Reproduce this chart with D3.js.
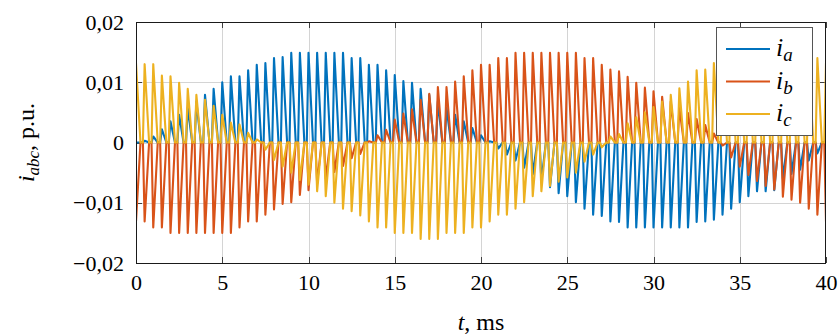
<!DOCTYPE html>
<html lang="en">
<head>
<meta charset="UTF-8">
<title>i_abc</title>
<script src="https://cdn.jsdelivr.net/npm/d3@7/dist/d3.min.js"></script>
<style>
  body { margin: 0; background: #fff; }
  svg text { font-family: "Times New Roman", "Liberation Serif", Times, "Nimbus Roman", serif; fill: #000; }
  .axis path { display: none; }
  .axis line { stroke: #404040; shape-rendering: crispEdges; }
  .axis text { font-size: 22px; font-family: "Times New Roman", "Liberation Serif", Times, serif; }
  .grid line { stroke: #d4d4d4; shape-rendering: crispEdges; }
</style>
</head>
<body>
<script>
// spike instants, ms (one switching pulse every 0.5 ms)
var time = d3.range(0, 40.001, 0.5);

// pulse peaks, p.u.
var ia = [0.0000, 0.0003, 0.0010, 0.0022, 0.0035, 0.0046, 0.0058, 0.0068, 0.0079, 0.0089,
          0.0100, 0.0110, 0.0110, 0.0120, 0.0129, 0.0132, 0.0140, 0.0142, 0.0149, 0.0149,
          0.0149, 0.0149, 0.0149, 0.0149, 0.0149, 0.0140, 0.0140, 0.0129, 0.0129, 0.0120,
          0.0112, 0.0102, 0.0099, 0.0089, 0.0079, 0.0068, 0.0058, 0.0046, 0.0035, 0.0024,
          0.0012, 0.0002, -0.0010, -0.0020, -0.0030, -0.0042, -0.0053, -0.0064, -0.0074, -0.0084,
          -0.0089, -0.0099, -0.0110, -0.0120, -0.0122, -0.0131, -0.0132, -0.0141, -0.0141, -0.0141,
          -0.0141, -0.0141, -0.0141, -0.0141, -0.0141, -0.0132, -0.0131, -0.0128, -0.0120, -0.0110,
          -0.0099, -0.0089, -0.0081, -0.0081, -0.0079, -0.0060, -0.0052, -0.0045, -0.0030, -0.0018,
          0.0000];
var ib = [-0.0131, -0.0131, -0.0141, -0.0141, -0.0150, -0.0150, -0.0150, -0.0150, -0.0150, -0.0150,
          -0.0150, -0.0150, -0.0141, -0.0131, -0.0131, -0.0120, -0.0111, -0.0102, -0.0099, -0.0087,
          -0.0079, -0.0068, -0.0060, -0.0049, -0.0039, -0.0026, -0.0019, 0.0002, 0.0012, 0.0021,
          0.0038, 0.0048, 0.0055, 0.0071, 0.0081, 0.0092, 0.0092, 0.0101, 0.0110, 0.0120,
          0.0129, 0.0129, 0.0140, 0.0140, 0.0149, 0.0149, 0.0149, 0.0149, 0.0149, 0.0149,
          0.0149, 0.0149, 0.0140, 0.0140, 0.0129, 0.0121, 0.0118, 0.0109, 0.0099, 0.0091,
          0.0085, 0.0076, 0.0068, 0.0058, 0.0049, 0.0039, 0.0029, 0.0015, -0.0005, -0.0025,
          -0.0040, -0.0054, -0.0064, -0.0072, -0.0078, -0.0090, -0.0095, -0.0100, -0.0110, -0.0120,
          -0.0131];
var ic = [0.0132, 0.0130, 0.0130, 0.0111, 0.0110, 0.0099, 0.0089, 0.0079, 0.0071, 0.0061,
          0.0046, 0.0033, 0.0030, 0.0016, 0.0005, -0.0012, -0.0029, -0.0040, -0.0050, -0.0062,
          -0.0070, -0.0081, -0.0089, -0.0100, -0.0110, -0.0114, -0.0121, -0.0131, -0.0141, -0.0141,
          -0.0150, -0.0150, -0.0150, -0.0160, -0.0160, -0.0160, -0.0150, -0.0150, -0.0150, -0.0141,
          -0.0141, -0.0131, -0.0120, -0.0120, -0.0110, -0.0099, -0.0089, -0.0081, -0.0072, -0.0065,
          -0.0058, -0.0050, -0.0032, -0.0020, -0.0008, 0.0010, 0.0014, 0.0032, 0.0042, 0.0050,
          0.0059, 0.0068, 0.0079, 0.0090, 0.0101, 0.0120, 0.0121, 0.0132, 0.0132, 0.0140,
          0.0140, 0.0145, 0.0149, 0.0149, 0.0149, 0.0149, 0.0149, 0.0149, 0.0140, 0.0140,
          0.0132];

var xTicks = [0, 5, 10, 15, 20, 25, 30, 35, 40];
var yTicks = [-0.02, -0.01, 0, 0.01, 0.02];
var names = ["a", "b", "c"];
var colors = ["#0072bd", "#d95319", "#edb120"];

var width = 840, height = 336;
var pl = 136, pr = 826, pt = 22, pb = 263;   // plot box

var svg = d3.select("body").append("svg")
    .attr("width", width)
    .attr("height", height);

var x = d3.scaleLinear().domain([0, 40]).range([pl, pr]);
var y = d3.scaleLinear().domain([-0.02, 0.02]).range([pb, pt]);

var comma = d3.formatLocale({decimal: ",", thousands: ".", grouping: [3], currency: ["", ""], minus: "\u2212"});
var fy = comma.format(".2f");

// grid
svg.append("g").attr("class", "grid")
    .selectAll("line").data(xTicks.slice(1, -1)).enter().append("line")
    .attr("x1", d => Math.round(x(d)) + 0.5).attr("x2", d => Math.round(x(d)) + 0.5)
    .attr("y1", pt).attr("y2", pb);
svg.append("g").attr("class", "grid")
    .selectAll("line").data(yTicks.slice(1, -1)).enter().append("line")
    .attr("y1", d => Math.round(y(d)) + 0.5).attr("y2", d => Math.round(y(d)) + 0.5)
    .attr("x1", pl).attr("x2", pr);

// ticks inside the frame
svg.append("g").attr("class", "axis")
    .attr("transform", "translate(0," + pb + ")")
    .call(d3.axisBottom(x).tickValues(xTicks).tickSizeInner(-6).tickSizeOuter(0).tickPadding(11).tickFormat(d3.format("d")));
svg.append("g").attr("class", "axis")
    .attr("transform", "translate(0," + pt + ")")
    .call(d3.axisTop(x).tickValues(xTicks).tickSizeInner(-6).tickSizeOuter(0).tickFormat(""));
svg.append("g").attr("class", "axis")
    .attr("transform", "translate(" + pl + ",0)")
    .call(d3.axisLeft(y).tickValues(yTicks).tickSizeInner(-6).tickSizeOuter(0).tickPadding(12)
        .tickFormat(d => d === 0 ? "0" : fy(d)));
svg.append("g").attr("class", "axis")
    .attr("transform", "translate(" + pr + ",0)")
    .call(d3.axisRight(y).tickValues(yTicks).tickSizeInner(-6).tickSizeOuter(0).tickFormat(""));

// signals
svg.append("clipPath").attr("id", "plot")
    .append("rect").attr("x", pl).attr("y", pt).attr("width", pr - pl).attr("height", pb - pt);

var line = d3.line().x(d => x(d[0])).y(d => y(d[1]));
function pulses(vals) {
    var pts = [];
    time.forEach(function (t, i) {
        pts.push([t - 0.1, 0], [t, vals[i]], [t + 0.26, 0]);
    });
    return pts;
}

svg.append("g").attr("clip-path", "url(#plot)")
    .selectAll("path").data([ia, ib, ic]).enter().append("path")
    .attr("d", d => line(pulses(d)))
    .attr("fill", "none")
    .attr("stroke", (d, i) => colors[i])
    .attr("stroke-width", 2.1)
    .attr("stroke-linejoin", "round");

// frame
svg.append("rect")
    .attr("x", pl + 0.5).attr("y", pt + 0.5)
    .attr("width", pr - pl - 1).attr("height", pb - pt)
    .attr("fill", "none").attr("stroke", "#1a1a1a").attr("stroke-width", 1);

// axis labels
svg.append("text")
    .attr("x", (pl + pr) / 2).attr("y", 330)
    .attr("text-anchor", "middle").attr("font-size", 24)
    .html('<tspan font-style="italic">t</tspan>, ms');

var yl = svg.append("text")
    .attr("transform", "translate(34," + y(0) + ") rotate(-90)")
    .attr("text-anchor", "middle").attr("font-size", 24);
yl.append("tspan").attr("font-style", "italic").text("i");
yl.append("tspan").attr("font-style", "italic").attr("font-size", 17).attr("dy", 5).text("abc");
yl.append("tspan").attr("dy", -5).text(", p.u.");

// legend
var lg = svg.append("g").attr("transform", "translate(716,27)");
lg.append("rect").attr("x", 0.5).attr("y", 0.5).attr("width", 96).attr("height", 108)
    .attr("fill", "#fff").attr("stroke", "#555").attr("stroke-width", 1);
var item = lg.selectAll("g.item").data(names).enter().append("g")
    .attr("class", "item")
    .attr("transform", (d, i) => "translate(0," + (22 + i * 32.5) + ")");
item.append("line").attr("x1", 10).attr("x2", 54)
    .attr("stroke", (d, i) => colors[i]).attr("stroke-width", 2);
var lt = item.append("text").attr("x", 60).attr("y", 7).attr("font-size", 26);
lt.append("tspan").attr("font-style", "italic").text("i");
lt.append("tspan").attr("font-style", "italic").attr("font-size", 19).attr("dy", 5).text(d => d);
</script>
</body>
</html>
